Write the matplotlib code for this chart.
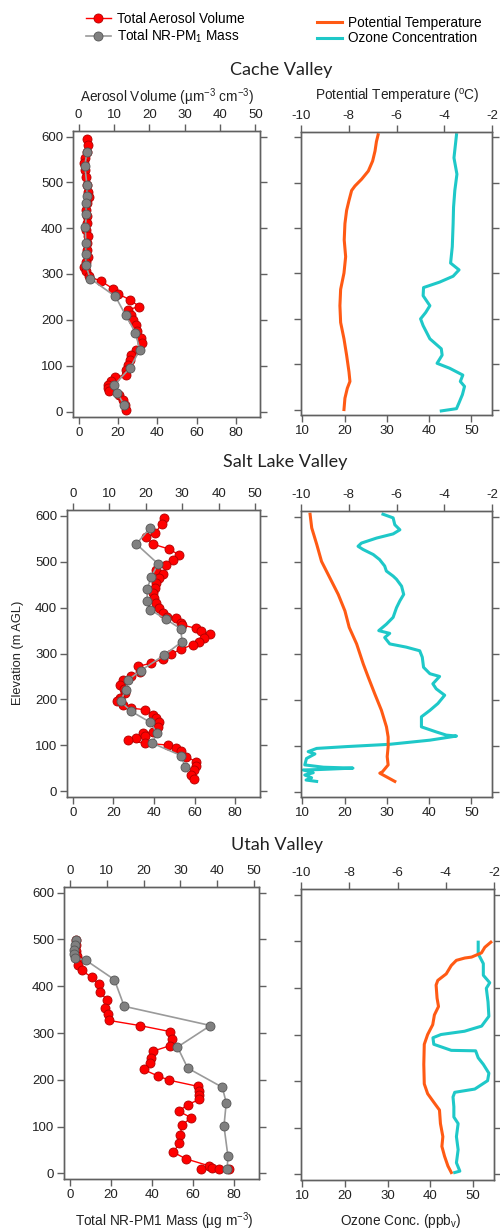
import matplotlib
matplotlib.use("Agg")
import matplotlib.pyplot as plt
from matplotlib.lines import Line2D

plt.rcParams['font.family'] = ['Liberation Sans', 'DejaVu Sans']
plt.rcParams['mathtext.fontset'] = 'custom'
plt.rcParams['mathtext.rm'] = 'Liberation Sans'
plt.rcParams['mathtext.it'] = 'Liberation Sans:italic'
plt.rcParams['font.size'] = 9

# ---------------- data: Cache Valley ----------------
cache_vol_z = [594, 582, 567, 553, 542, 527, 511, 495, 480, 469, 455, 440, 426, 411, 396, 382, 367, 353,
               338, 327, 316, 306, 295, 284, 268, 257, 244, 229, 222, 211, 200, 189, 175, 160, 149, 135,
               124, 113, 102, 91, 80, 75, 66, 58, 51, 44, 36, 26, 15, 4]
cache_vol = [2.4, 2.7, 2.4, 1.7, 1.4, 1.7, 2.0, 2.4, 2.6, 2.9, 2.4, 2.2, 2.4, 2.4, 2.2, 2.6, 2.4, 2.4,
             2.6, 2.2, 1.6, 2.0, 2.9, 6.4, 9.7, 11.1, 14.4, 17.2, 13.9, 14.8, 15.3, 16.2, 16.4, 17.6, 17.9, 16.2,
             14.8, 14.4, 13.9, 13.4, 13.4, 10.4, 9.2, 8.3, 8.3, 8.7, 11.5, 12.5, 13.0, 13.4]
cache_mass_z = [566, 536, 494, 470, 456, 430, 402, 367, 343, 319, 290, 251, 210, 172, 135, 96, 57, 41, 15]
cache_mass = [4.2, 3.1, 4.2, 4.2, 3.6, 3.9, 3.4, 3.6, 3.6, 3.6, 5.9, 18.7, 23.9, 28.9, 31.1, 26.3, 18.0, 19.5, 23.1]
cache_temp_z = [606, 591, 570, 548, 526, 508, 493, 483, 461, 439, 410, 374, 337, 301, 265, 229, 192, 156,
                120, 83, 62, 47, 25, 0]
cache_temp = [-6.77, -6.84, -6.9, -7.0, -7.18, -7.46, -7.74, -7.88, -7.99, -8.09, -8.16, -8.19, -8.13, -8.2,
              -8.34, -8.37, -8.34, -8.2, -8.09, -7.99, -7.95, -8.06, -8.16, -8.2]
cache_o3_z = [606, 555, 519, 483, 446, 410, 359, 323, 308, 294, 281, 269, 251, 229, 214, 200, 185, 156,
              134, 120, 102, 91, 76, 62, 51, 33, 15, 2, -3]
cache_o3 = [46.5, 45.9, 46.6, 46.1, 45.8, 45.7, 45.5, 45.1, 47.1, 45.7, 42.5, 38.7, 38.6, 40.2, 39.2, 38.0,
            38.6, 40.2, 42.9, 43.1, 41.9, 44.9, 48.0, 47.4, 48.4, 47.9, 47.1, 46.5, 42.9]

# ---------------- data: Salt Lake Valley ----------------
slv_vol_z = [594, 582, 562, 553, 538, 527, 514, 504, 493, 482, 473, 464, 453, 442, 431, 420, 409, 399,
             389, 380, 377, 367, 362, 355, 348, 342, 333, 326, 319, 309, 299, 288, 279, 272, 259, 250,
             243, 232, 222, 214, 203, 196, 188, 181, 178, 167, 159, 152, 141, 130, 127, 121, 116, 111,
             105, 101, 94, 87, 76, 65, 56, 47, 36, 27]
slv_vol = [25.1, 24.4, 22.6, 20.1, 21.9, 26.4, 29.2, 27.5, 25.5, 22.8, 24.6, 23.7, 22.8, 22.4, 21.9, 22.2,
           22.8, 23.6, 24.6, 25.7, 28.3, 29.6, 29.9, 33.7, 35.0, 37.5, 36.0, 34.6, 32.8, 29.6, 26.9, 24.6,
           21.5, 17.8, 18.3, 16.0, 13.8, 12.9, 14.0, 14.2, 12.9, 12.1, 13.8, 16.0, 19.7, 22.1, 22.9, 23.6,
           23.3, 22.1, 19.2, 19.9, 17.4, 15.1, 19.7, 26.0, 28.3, 29.6, 31.0, 33.7, 33.7, 33.2, 32.3, 33.2]
slv_mass_z = [572, 538, 495, 467, 440, 415, 395, 375, 354, 326, 296, 263, 243, 221, 196, 174, 151, 128,
              105, 78, 54]
slv_mass = [37.9, 31.3, 42.0, 38.7, 36.6, 36.7, 38.2, 45.7, 53.1, 53.9, 44.9, 33.5, 27.3, 26.1, 23.5, 28.9,
            37.9, 41.5, 39.2, 53.4, 55.3]
slv_temp_z = [605, 575, 539, 502, 466, 430, 394, 358, 322, 278, 249, 213, 177, 141, 119, 98, 76, 58, 43, 40, 22]
slv_temp = [-9.62, -9.55, -9.34, -9.14, -8.79, -8.44, -8.16, -7.98, -7.67, -7.39, -7.18, -6.91, -6.63,
            -6.42, -6.35, -6.35, -6.39, -6.35, -6.59, -6.7, -6.07]
slv_o3_z = [605, 597, 582, 571, 562, 553, 542, 535, 528, 517, 506, 492, 481, 470, 463, 448, 430, 416, 401,
            380, 365, 351, 345, 336, 322, 315, 307, 293, 271, 257, 251, 235, 224, 210, 192, 177, 163, 141,
            130, 123, 121, 112, 103, 98, 94, 87, 82, 72, 58, 53, 51, 48, 47, 41, 36, 30, 25, 22]
slv_o3 = [29.1, 31.5, 31.9, 33.1, 31.5, 27.6, 24.0, 23.2, 24.4, 26.8, 28.3, 29.5, 29.9, 31.5, 32.3, 33.5,
          34.0, 33.1, 32.3, 31.5, 29.9, 28.1, 30.7, 29.5, 30.7, 34.6, 37.8, 38.4, 38.7, 40.2, 42.5, 40.9,
          41.7, 43.7, 42.1, 40.2, 38.2, 38.2, 41.7, 44.1, 46.5, 40.2, 30.7, 20.5, 13.4, 11.4, 13.0, 11.0,
          10.6, 15.0, 22.0, 14.2, 10.2, 12.6, 10.6, 12.2, 10.9, 13.4]

# ---------------- data: Utah Valley ----------------
utah_vol_z = [499, 488, 476, 465, 456, 446, 434, 419, 405, 387, 371, 353, 340, 327, 316, 303, 287, 273,
              261, 247, 236, 222, 208, 199, 186, 176, 167, 158, 147, 133, 119, 104, 83, 65, 45, 31, 16,
              9, 12, 10, 9]
utah_vol = [1.6, 1.6, 1.6, 1.8, 2.3, 2.3, 3.2, 5.9, 7.8, 8.1, 10.1, 9.6, 10.4, 10.5, 18.9, 27.2, 27.7,
            27.2, 22.5, 22.1, 21.6, 20.0, 23.9, 27.0, 34.7, 35.0, 35.1, 35.1, 32.0, 29.5, 32.9, 30.5, 29.9,
            29.7, 28.1, 31.5, 37.8, 35.6, 38.5, 40.5, 43.2]
utah_mass_z = [499, 488, 478, 469, 460, 456, 414, 357, 316, 270, 225, 184, 151, 101, 38, 9]
utah_mass = [2.9, 2.6, 1.9, 1.9, 2.4, 7.6, 21.7, 26.5, 68.6, 52.5, 57.5, 74.4, 76.3, 75.2, 77.1, 76.8]
utah_temp_z = [498, 487, 475, 466, 464, 459, 448, 430, 416, 406, 378, 360, 342, 321, 300, 279, 236, 194,
               173, 155, 138, 109, 81, 60, 39, 18, 4]
utah_temp = [-2.13, -2.38, -2.52, -2.93, -3.21, -3.56, -3.77, -3.98, -4.33, -4.4, -4.36, -4.3, -4.47,
             -4.54, -4.75, -4.89, -4.91, -4.89, -4.75, -4.5, -4.26, -4.22, -4.12, -4.16, -4.05, -3.91, -3.77]
utah_o3_z = [498, 473, 452, 427, 411, 399, 370, 339, 318, 307, 300, 293, 279, 266, 265, 250, 236, 217,
             201, 183, 176, 166, 145, 123, 109, 81, 53, 25, 7, 4]
utah_o3 = [51.2, 51.2, 52.4, 52.4, 53.9, 53.1, 53.5, 53.7, 52.0, 48.0, 42.5, 40.6, 40.8, 44.9, 50.6, 51.2,
           52.4, 53.7, 53.4, 50.4, 45.7, 45.3, 45.5, 45.5, 46.5, 46.1, 46.5, 46.1, 46.9, 45.7]

valleys = ["Cache Valley", "Salt Lake Valley", "Utah Valley"]

# pixel boxes (x0, x1, y0, y1) for each row: left panel, right panel
left_boxes = [(73, 260, 131, 417), (67, 260, 510, 797), (64, 259, 887, 1179)]
right_boxes = [(301, 492, 132, 415), (301, 492, 511, 797), (301, 494, 889, 1180)]
title_pos = [(281, 70), (285, 462), (277, 845)]

RED = '#ff0000'
GRAY = '#808080'
ORANGE = '#ff5a14'
CYAN = '#1ec8c8'
SPINE = '#606060'

fig = plt.figure(figsize=(5, 12.3), dpi=100)


def add_ax(box):
    x0, x1, y0, y1 = box
    return fig.add_axes([x0 / 500, 1 - y1 / 1230, (x1 - x0) / 500, (y1 - y0) / 1230])


def style(ax, ylabels):
    for s in ax.spines.values():
        s.set_color(SPINE)
        s.set_linewidth(1.0)
    ax.tick_params(axis='both', direction='out', length=5, width=1, color=SPINE,
                   labelcolor='#222222', labelsize=9.5, pad=2)
    ax.tick_params(axis='y', left=True, right=True, labelleft=ylabels, labelright=False)
    ax.set_ylim(-12, 612)
    ax.set_yticks(range(0, 601, 100))


data = [
    (cache_vol_z, cache_vol, cache_mass_z, cache_mass, cache_temp_z, cache_temp, cache_o3_z, cache_o3),
    (slv_vol_z, slv_vol, slv_mass_z, slv_mass, slv_temp_z, slv_temp, slv_o3_z, slv_o3),
    (utah_vol_z, utah_vol, utah_mass_z, utah_mass, utah_temp_z, utah_temp, utah_o3_z, utah_o3),
]

for i, (vz, v, mz, m, tz, t, oz, o) in enumerate(data):
    # left panel: volume on top axis, mass on bottom axis
    axv = add_ax(left_boxes[i])
    axm = axv.twiny()
    axv.xaxis.tick_top()
    axm.xaxis.tick_bottom()
    axv.plot(v, vz, '-o', color=RED, lw=1, ms=6.5, mfc=RED, mec='#b00000', mew=0.6, zorder=2)
    axm.plot(m, mz, '-o', color='#9a9a9a', lw=1.2, ms=6.5, mfc=GRAY, mec='#555555', mew=0.6, zorder=3)
    axv.set_xlim(-1.6, 51.3)
    axv.set_xticks(range(0, 51, 10))
    axm.set_xlim(-2.9, 92.3)
    axm.set_xticks(range(0, 81, 20))
    style(axv, True)
    style(axm, True)
    axv.tick_params(axis='x', top=True, bottom=False, labeltop=True, labelbottom=False)
    axm.tick_params(axis='x', top=False, bottom=True, labeltop=False, labelbottom=True)

    # right panel: temperature on top axis, ozone on bottom axis
    axo = add_ax(right_boxes[i])
    axt = axo.twiny()
    axo.plot(o, oz, color=CYAN, lw=2.2, solid_joinstyle='round')
    axt.plot(t, tz, color=ORANGE, lw=2.2, solid_joinstyle='round')
    axo.set_xlim(9.7, 54.9)
    axo.set_xticks(range(10, 51, 10))
    axt.set_xlim(-10, -2)
    axt.set_xticks(range(-10, -1, 2))
    style(axo, False)
    style(axt, False)
    axt.xaxis.set_major_formatter(matplotlib.ticker.FuncFormatter(lambda x, p: '%d' % x))
    axo.tick_params(axis='x', top=False, bottom=True, labeltop=False, labelbottom=True)
    axt.tick_params(axis='x', top=True, bottom=False, labeltop=True, labelbottom=False)

    tx, ty = title_pos[i]
    fig.text(tx / 500, 1 - ty / 1230, valleys[i], ha='center', va='center',
             fontsize=13, family=['Lato', 'DejaVu Sans'], color='#222222')

# axis labels
fig.text(167 / 500, 1 - 97 / 1230, 'Aerosol Volume (µm$^{-3}$ cm$^{-3}$)', ha='center', va='center',
         fontsize=9.8, color='#222222')
fig.text(397 / 500, 1 - 97 / 1230, 'Potential Temperature ($^{\\mathrm{o}}$C)', ha='center', va='center',
         fontsize=9.8, color='#222222')
fig.text(18 / 500, 1 - 653 / 1230, 'Elevation (m AGL)', rotation=90, ha='center', va='center',
         fontsize=9.3, color='#222222')
fig.text(164 / 500, 1 - 1221 / 1230, 'Total NR-PM1 Mass (µg m$^{-3}$)', ha='center', va='center',
         fontsize=9.8, color='#222222')
fig.text(401 / 500, 1 - 1221 / 1230, 'Ozone Conc. (ppb$_{\\mathrm{v}}$)', ha='center', va='center',
         fontsize=9.8, color='#222222')

# legends
h_left = [Line2D([], [], color=RED, lw=1, marker='o', ms=6.5, mfc=RED, mec='#b00000', mew=0.6),
          Line2D([], [], color='#9a9a9a', lw=1.2, marker='o', ms=6.5, mfc=GRAY, mec='#555555', mew=0.6)]
fig.legend(h_left, ['Total Aerosol Volume', 'Total NR-PM$_1$ Mass'], loc='upper left',
           bbox_to_anchor=(86 / 500, 1 - 12 / 1230), frameon=False, fontsize=9.8,
           handlelength=1.8, handletextpad=0.5, labelspacing=0.1, borderpad=0, borderaxespad=0)
h_right = [Line2D([], [], color=ORANGE, lw=2.2), Line2D([], [], color=CYAN, lw=2.2)]
fig.legend(h_right, ['Potential Temperature', 'Ozone Concentration'], loc='upper left',
           bbox_to_anchor=(317 / 500, 1 - 16 / 1230), frameon=False, fontsize=9.8,
           handlelength=1.8, handletextpad=0.5, labelspacing=0.1, borderpad=0, borderaxespad=0)

fig.savefig('out.png', dpi=100, facecolor='white')
